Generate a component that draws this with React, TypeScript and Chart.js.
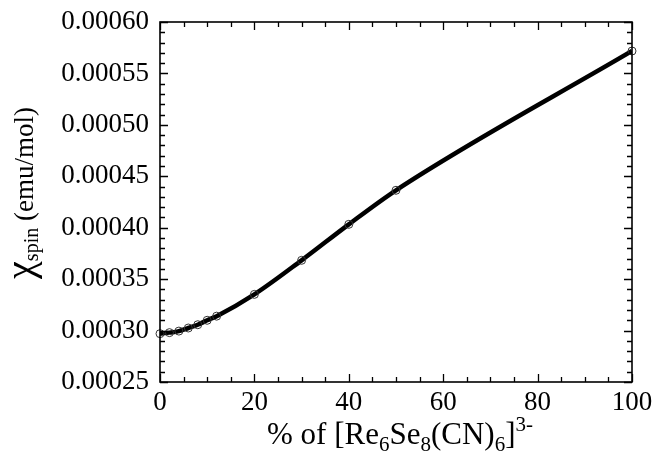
import React, { useEffect, useRef } from "react";
import { Chart, registerables } from "chart.js";

Chart.register(...registerables);

const percents = [0, 2, 4, 6, 8, 10, 12, 20, 30, 40, 50, 100];
const chiSpin = [0.000297, 0.000298, 0.0002995, 0.0003025, 0.0003057, 0.00031, 0.000314, 0.0003352, 0.0003683, 0.0004033, 0.0004364, 0.0005718];
const xTicks = [0, 20, 40, 60, 80, 100];
const yTicks = [0.00025, 0.0003, 0.00035, 0.0004, 0.00045, 0.0005, 0.00055, 0.0006];

const FONT = "'Liberation Serif', 'Times New Roman', serif";

const framePlugin = {
  id: "framePlugin",
  afterDraw(chart: any) {
    const ctx = chart.ctx;
    const a = chart.chartArea;
    const xs = chart.scales.x;
    const ys = chart.scales.y;
    ctx.save();
    ctx.strokeStyle = "#000";
    ctx.lineWidth = 1.6;
    ctx.strokeRect(a.left, a.top, a.right - a.left, a.bottom - a.top);
    ctx.lineWidth = 1.3;
    ctx.beginPath();
    for (let v = 0; v <= 100.0001; v += 5) {
      const px = Math.round(xs.getPixelForValue(v)) + 0.5;
      const len = v % 20 === 0 ? 8 : 5;
      ctx.moveTo(px, a.bottom);
      ctx.lineTo(px, a.bottom - len);
      ctx.moveTo(px, a.top);
      ctx.lineTo(px, a.top + len);
    }
    for (let i = 0; i <= 35; i++) {
      const v = 0.00025 + i * 0.00001;
      const py = Math.round(ys.getPixelForValue(v)) + 0.5;
      const len = i % 5 === 0 ? 8 : 5;
      ctx.moveTo(a.left, py);
      ctx.lineTo(a.left + len, py);
      ctx.moveTo(a.right, py);
      ctx.lineTo(a.right - len, py);
    }
    ctx.stroke();

    // X title
    const big = 31;
    const small = 21;
    const parts: [string, string][] = [
      ["% of [Re", "n"],
      ["6", "sub"],
      ["Se", "n"],
      ["8", "sub"],
      ["(CN)", "n"],
      ["6", "sub"],
      ["]", "n"],
      ["3-", "sup"],
    ];
    ctx.fillStyle = "#000";
    ctx.textBaseline = "alphabetic";
    ctx.textAlign = "left";
    let total = 0;
    const widths = parts.map(([t, k]) => {
      ctx.font = `${k === "n" ? big : small}px ${FONT}`;
      const w = ctx.measureText(t).width;
      total += w;
      return w;
    });
    let x = (a.left + a.right) / 2 + 4 - total / 2;
    const base = 444;
    parts.forEach(([t, k], i) => {
      ctx.font = `${k === "n" ? big : small}px ${FONT}`;
      const dy = k === "sub" ? 7 : k === "sup" ? -13 : 0;
      ctx.fillText(t, x, base + dy);
      x += widths[i];
    });

    // Y title
    ctx.translate(33, (a.top + a.bottom) / 2 - 9);
    ctx.rotate(-Math.PI / 2);
    const yparts: [string, number, number][] = [
      ["\u03C7", 40, 0],
      ["spin", 20, 5],
      [" (emu/mol)", 27, 0],
    ];
    let ytot = 0;
    const yw = yparts.map(([t, s]) => {
      ctx.font = `${s}px ${FONT}`;
      const w = ctx.measureText(t).width;
      ytot += w;
      return w;
    });
    let yx = -ytot / 2;
    yparts.forEach(([t, s, dy], i) => {
      ctx.font = `${s}px ${FONT}`;
      ctx.fillText(t, yx, dy);
      yx += yw[i];
    });
    ctx.restore();
  },
};

export default function App() {
  const ref = useRef<HTMLCanvasElement>(null);
  useEffect(() => {
    document.body.style.margin = "0";
    const chart = new Chart(ref.current!, {
      type: "line",
      data: {
        datasets: [
          {
            data: percents.map((p, i) => ({ x: p, y: chiSpin[i] })),
            borderColor: "#000",
            backgroundColor: "rgba(0,0,0,0)",
            borderWidth: 0,
            showLine: false,
            pointRadius: 4,
            pointBorderWidth: 1,
            pointBorderColor: "#333",
            pointBackgroundColor: "rgba(0,0,0,0)",
            clip: false as any,
            order: 0,
          },
          {
            data: percents.map((p, i) => ({ x: p, y: chiSpin[i] })),
            borderColor: "#000",
            borderWidth: 4.5,
            pointRadius: 0,
            cubicInterpolationMode: "monotone",
            fill: false,
            order: 1,
          },
        ],
      },
      options: {
        responsive: false,
        animation: false,
        layout: { padding: { top: 22, right: 21, left: 0, bottom: 0 } },
        plugins: { legend: { display: false }, tooltip: { enabled: false } },
        scales: {
          x: {
            type: "linear",
            min: 0,
            max: 100,
            afterFit: (s: any) => {
              s.height = 78;
              s.paddingRight = 0;
              s.paddingLeft = 0;
            },
            afterBuildTicks: (s: any) => {
              s.ticks = xTicks.map((v) => ({ value: v }));
            },
            grid: { display: false, drawTicks: false },
            border: { display: false },
            ticks: {
              color: "#000",
              font: { family: FONT, size: 27 },
              padding: 5,
              maxRotation: 0,
            },
          },
          y: {
            type: "linear",
            min: 0.00025,
            max: 0.0006,
            afterFit: (s: any) => {
              s.width = 160;
              s.paddingTop = 0;
              s.paddingBottom = 0;
            },
            afterBuildTicks: (s: any) => {
              s.ticks = yTicks.map((v) => ({ value: v }));
            },
            grid: { display: false, drawTicks: false },
            border: { display: false },
            ticks: {
              color: "#000",
              font: { family: FONT, size: 27 },
              padding: 11,
              callback: (v: any) => Number(v).toFixed(5),
            },
          },
        },
      },
      plugins: [framePlugin],
    });
    return () => chart.destroy();
  }, []);
  return (
    <div style={{ width: 653, height: 460 }}>
      <canvas ref={ref} width={653} height={460} />
    </div>
  );
}
